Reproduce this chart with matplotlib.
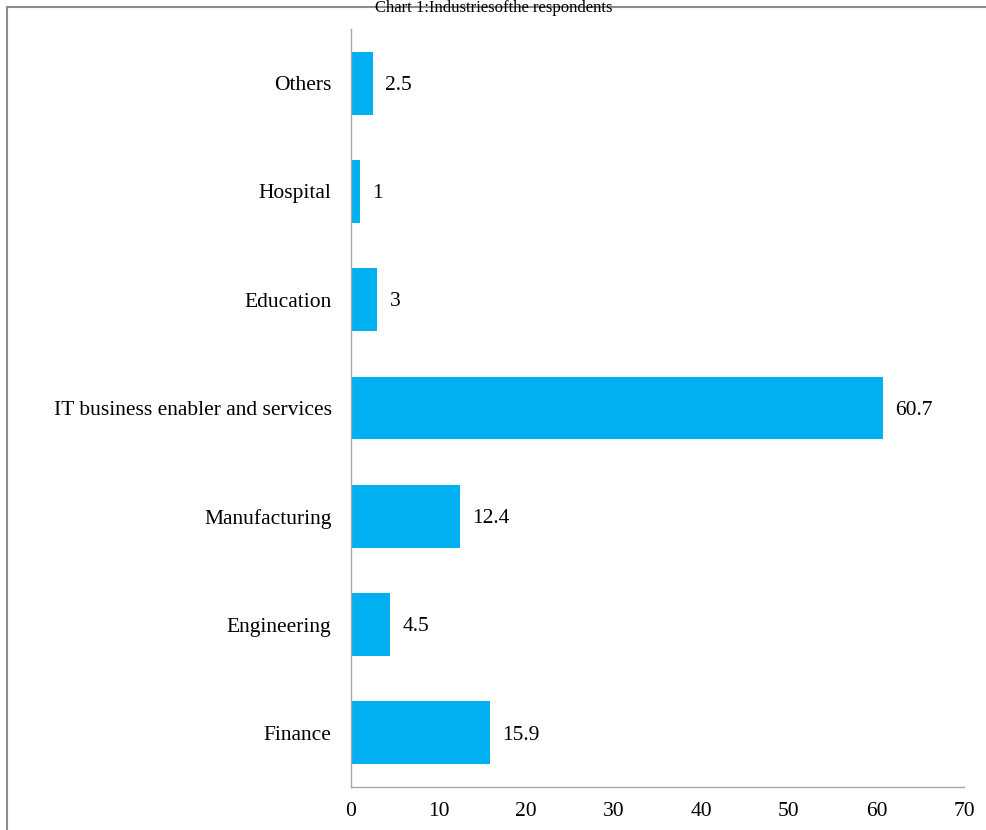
import matplotlib
matplotlib.use("Agg")
import matplotlib.pyplot as plt
from matplotlib.patches import Rectangle

categories = ["Finance", "Engineering", "Manufacturing", "IT business enabler and services",
              "Education", "Hospital", "Others"]
values = [15.9, 4.5, 12.4, 60.7, 3, 1, 2.5]
labels = ["15.9", "4.5", "12.4", "60.7", "3", "1", "2.5"]
xticks = [0, 10, 20, 30, 40, 50, 60, 70]

plt.rcParams['font.family'] = ['Liberation Serif', 'DejaVu Serif']
FS = 15.5

fig = plt.figure(figsize=(9.87, 8.3), dpi=100)
ax = fig.add_axes([351/987, 1 - 787/830, (964 - 351)/987, (787 - 29)/830])

pos = list(range(len(categories)))
ax.barh(pos, values, height=0.58, color="#00B0F0")
for p, v, l in zip(pos, values, labels):
    ax.text(v + 1.4, p - 0.02, l, va="center", ha="left", fontsize=FS)

ax.set_xlim(0, 70)
ax.set_ylim(-0.5, 6.5)
ax.set_yticks(pos)
ax.set_yticklabels(categories, fontsize=FS)
ax.set_xticks(xticks)
ax.set_xticklabels([str(t) for t in xticks], fontsize=FS)
ax.tick_params(axis="x", length=0, pad=11)
ax.tick_params(axis="y", length=0, pad=14)
for s in ["top", "right"]:
    ax.spines[s].set_visible(False)
for s in ["left", "bottom"]:
    ax.spines[s].set_color("#A6A6A6")
    ax.spines[s].set_linewidth(1)

# outer frame (top and left edges visible)
fig.patches.append(Rectangle((7/987, -0.1), 1.1, 1 - 7/830 + 0.1, transform=fig.transFigure,
                             fill=False, edgecolor="#8C8C8C", linewidth=1.5))
fig.text(0.5, 1.0, "Chart 1:Industriesofthe respondents", ha="center", va="top",
         fontsize=12)

fig.savefig("out.png", dpi=100)
